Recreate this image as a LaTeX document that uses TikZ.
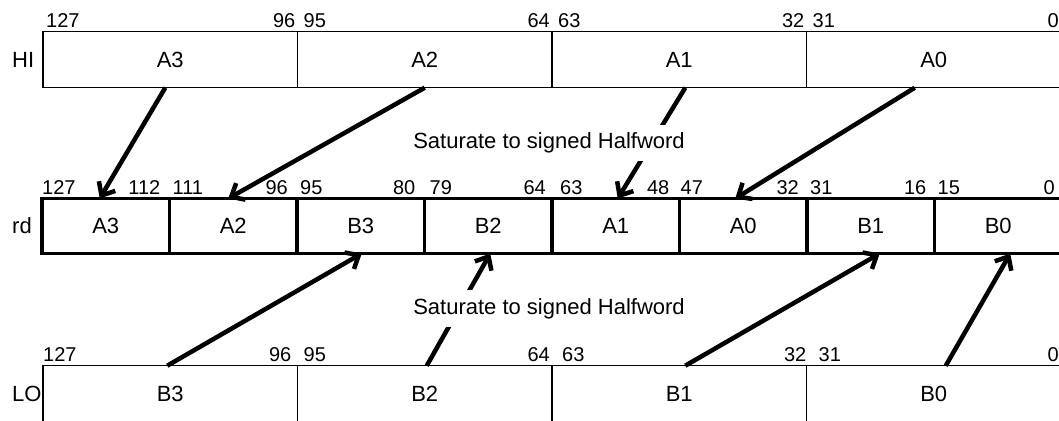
\documentclass[tikz,border=0pt]{standalone}
\usepackage{fontspec}
\setmainfont{Liberation Sans}
\usepackage{tikz}
\usetikzlibrary{positioning, arrows.meta}

\tikzset{
    halfcell/.style={draw, line width=1.2pt, outer sep=0pt, inner sep=0pt,
          minimum width=254.5pt, minimum height=56pt},
    rdcell/.style={draw, line width=3.5pt, outer sep=0pt, inner sep=0pt,
          minimum width=127.5pt, minimum height=55pt},
    rowname/.style={anchor=west, inner sep=0pt},
    bitl/.style={anchor=south west, inner sep=0pt, label distance=0pt,
          xshift=#1, yshift=4pt, font=\fontsize{20}{23}\selectfont},
    bitl/.default=3pt,
    bitr/.style={anchor=south east, inner sep=0pt, label distance=0pt,
          xshift=#1, yshift=4pt, font=\fontsize{20}{23}\selectfont},
    bitr/.default=-2pt,
    movearrow/.style={line width=4.5pt, -{Straight Barb[length=11pt, width=19pt]}},
    satnote/.style={fill=white, inner xsep=6pt, inner ysep=8pt}
}

\begin{document}
\begin{tikzpicture}[x=1pt, y=-1pt, font=\fontsize{22}{26}\selectfont]
    \useasboundingbox (0,0) rectangle (1059,420);
    \clip (0,0) rectangle (1059,420);

    \node[halfcell, label={[bitl]north west:127}, label={[bitr]north east:96}] (hiA3) at (170.25,59.7) {A3};
    \node[halfcell, right=0pt of hiA3, label={[bitl=6pt]north west:95}, label={[bitr]north east:64}] (hiA2) {A2};
    \node[halfcell, right=0pt of hiA2, label={[bitl=6pt]north west:63}, label={[bitr]north east:32}] (hiA1) {A1};
    \node[halfcell, right=0pt of hiA1, label={[bitl=6pt]north west:31}, label={[bitr]north east:0}] (hiA0) {A0};
    \node[rowname] (hiname) at ([xshift=-31pt]hiA3.west) {HI};

    \node[rdcell, label={[bitl=0pt]north west:127}, label={[bitr=-9pt]north east:112}] (rdA3) at (105.75,226) {A3};
    \node[rdcell, right=0pt of rdA3, label={[bitl]north west:111}, label={[bitr=-9pt]north east:96}] (rdA2) {A2};
    \node[rdcell, right=0pt of rdA2, label={[bitl]north west:95}, label={[bitr=-9pt]north east:80}] (rdB3) {B3};
    \node[rdcell, right=0pt of rdB3, label={[bitl=5pt]north west:79}, label={[bitr=-6pt]north east:64}] (rdB2) {B2};
    \node[rdcell, right=0pt of rdB2, label={[bitl=8pt]north west:63}, label={[bitr=-10pt]north east:48}] (rdA1) {A1};
    \node[rdcell, right=0pt of rdA1, label={[bitl=1pt]north west:47}, label={[bitr=-8pt]north east:32}] (rdA0) {A0};
    \node[rdcell, right=0pt of rdA0, label={[bitl]north west:31}, label={[bitr=-8pt]north east:16}] (rdB1) {B1};
    \node[rdcell, right=0pt of rdB1, label={[bitl]north west:15}, label={[bitr=-7pt]north east:0}] (rdB0) {B0};
    \node[rowname] (rdname) at ([xshift=-30pt]rdA3.west) {rd};

    \node[halfcell, label={[bitl=0pt]north west:127}, label={[bitr=-6pt]north east:96}] (loB3) at (170.25,393.7) {B3};
    \node[halfcell, right=0pt of loB3, label={[bitl=6pt]north west:95}, label={[bitr]north east:64}] (loB2) {B2};
    \node[halfcell, right=0pt of loB2, label={[bitl=10pt]north west:63}, label={[bitr=0pt]north east:32}] (loB1) {B1};
    \node[halfcell, right=0pt of loB1, label={[bitl=12pt]north west:31}, label={[bitr]north east:0}] (loB0) {B0};
    \node[rowname] (loname) at ([xshift=-31pt]loB3.west) {LO};

    \draw[movearrow] ([xshift=-5pt]hiA3.south) -- ([xshift=-6pt]rdA3.north);
    \draw[movearrow] (hiA2.south) -- ([xshift=-5pt]rdA2.north);
    \draw[movearrow] ([xshift=6pt]hiA1.south) -- ([xshift=2pt]rdA1.north);
    \draw[movearrow] ([xshift=-19pt]hiA0.south) -- ([xshift=-8pt]rdA0.north);

    \draw[movearrow] ([xshift=-3pt]loB3.north) -- ([xshift=1pt]rdB3.south);
    \draw[movearrow] ([xshift=2pt]loB2.north) -- ([xshift=2pt]rdB2.south);
    \draw[movearrow] ([xshift=6pt]loB1.north) -- ([xshift=9pt]rdB1.south);
    \draw[movearrow] ([xshift=12pt]loB0.north) -- ([xshift=12pt]rdB0.south);

    \node[satnote] (sathi) at (549,143) {Saturate to signed Halfword};
    \node[satnote] (satlo) at (549,308.5) {Saturate to signed Halfword};
\end{tikzpicture}
\end{document}
